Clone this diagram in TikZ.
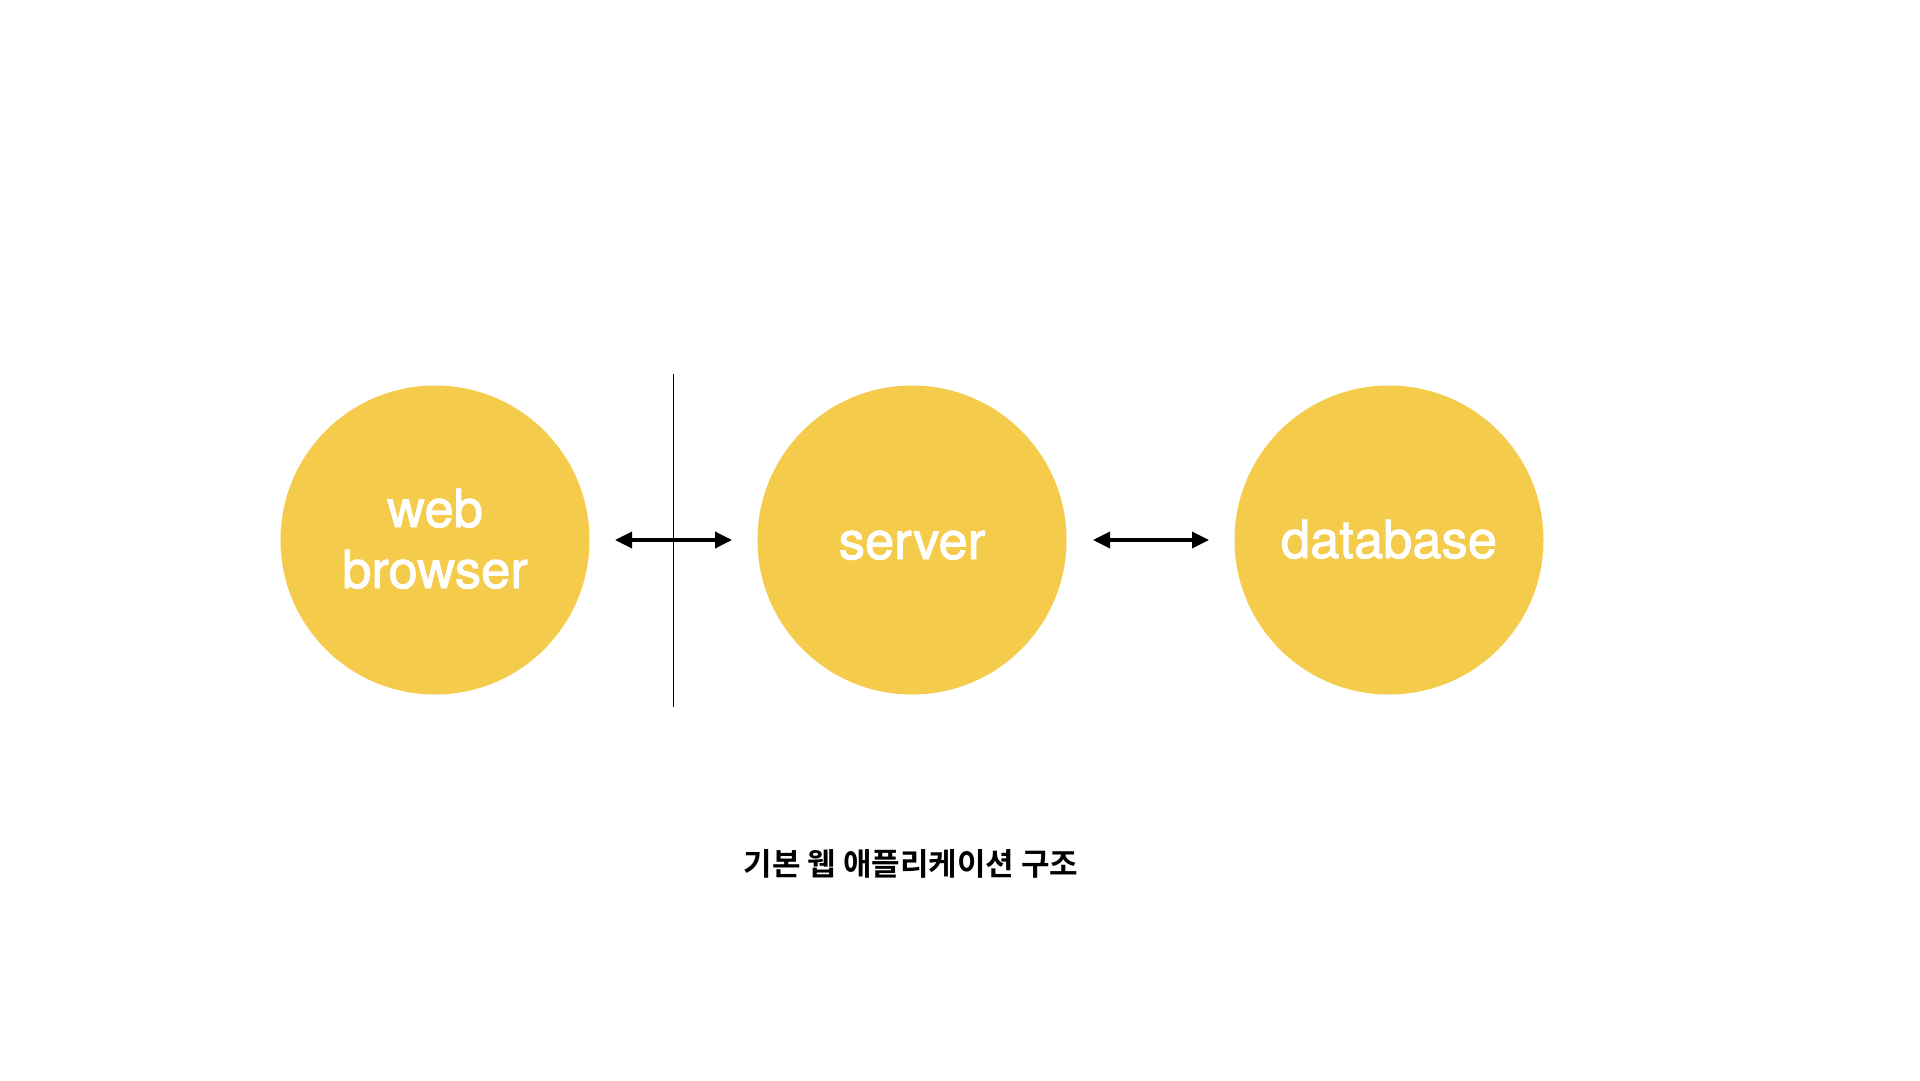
\documentclass[tikz,border=0pt]{standalone}
\usepackage{fontspec}
\setmainfont{TeX Gyre Heros}
\newfontfamily\medfont{TeX Gyre Heros}[FakeBold=1.8]
\newfontfamily\kr{Noto Sans CJK KR}[BoldFont={Noto Sans CJK KR Bold}]
\usetikzlibrary{arrows.meta}
\definecolor{circfill}{HTML}{F4CB4A}
\tikzset{
  bubble/.style={circle, fill=circfill, draw=none, minimum size=309pt, inner sep=0pt},
  bubbletext/.style={anchor=base, text=white, inner sep=0pt, font=\medfont\fontsize{52.5}{60}\selectfont},
  link/.style={line width=3.5pt, {Triangle[length=17pt,width=16pt]}-{Triangle[length=17pt,width=16pt]}},
  divider/.style={line width=1pt, draw=black}
}
\begin{document}
\begin{tikzpicture}[x=1pt,y=-1pt]
\fill[white] (0,0) rectangle (1920,1080);
\useasboundingbox (0,0) rectangle (1920,1080);
\node[bubble] (wb) at (435,540) {};
\node[bubble] (srv) at (912,540) {};
\node[bubble] (db) at (1389,540) {};
\node[bubbletext] (wbt1) at (435,527) {web};
\node[bubbletext] (wbt2) at (435,588) {browser};
\node[bubbletext] (srvt) at (912,559) {server};
\node[bubbletext] (dbt) at (1389,558) {database};
\coordinate (a1l) at (615,540);
\coordinate (a1r) at (732,540);
\coordinate (a2l) at (1093,540);
\coordinate (a2r) at (1209,540);
\coordinate (vt) at (673,374);
\coordinate (vb) at (673,707);
\draw[divider] (vt) -- (vb);
\draw[link] (a1l) -- (a1r);
\draw[link] (a2l) -- (a2r);
\node[font=\kr\bfseries\fontsize{31}{36}\selectfont, anchor=center] (cap) at (911,864) {기본 웹 애플리케이션 구조};
\end{tikzpicture}
\end{document}
